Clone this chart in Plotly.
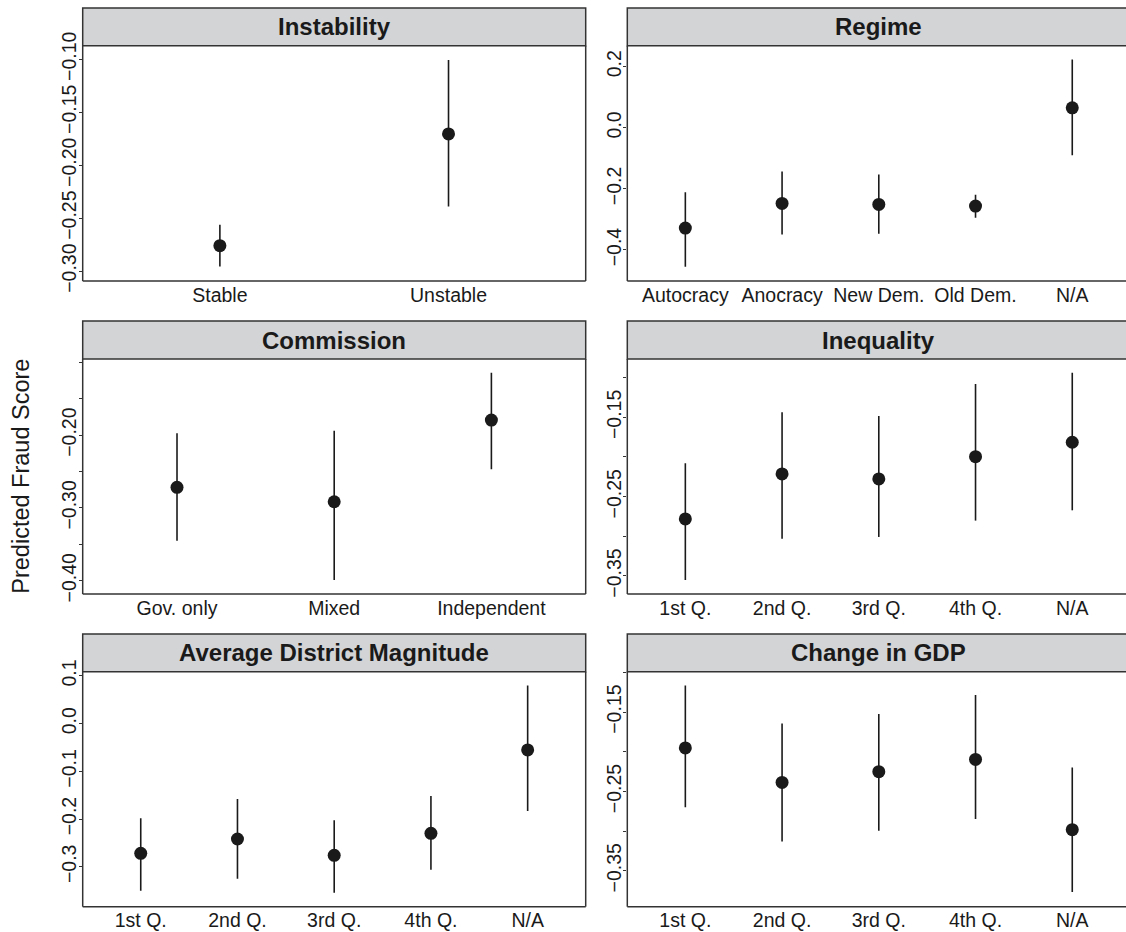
import plotly.graph_objects as go

# ---------------- data ----------------
instab_cats = ["Stable", "Unstable"]
instab_est = [-0.276, -0.1705]
instab_lo = [-0.2957, -0.239]
instab_hi = [-0.2563, -0.1007]

regime_cats = ["Autocracy", "Anocracy", "New Dem.", "Old Dem.", "N/A"]
regime_est = [-0.3284, -0.2477, -0.251, -0.2564, 0.0655]
regime_lo = [-0.455, -0.3492, -0.347, -0.2946, -0.0895]
regime_hi = [-0.2106, -0.1429, -0.1528, -0.2193, 0.2237]

comm_cats = ["Gov. only", "Mixed", "Independent"]
comm_est = [-0.2718, -0.2916, -0.1794]
comm_lo = [-0.3451, -0.399, -0.2471]
comm_hi = [-0.1977, -0.1941, -0.1144]

quart_cats = ["1st Q.", "2nd Q.", "3rd Q.", "4th Q.", "N/A"]

ineq_est = [-0.2781, -0.2214, -0.2277, -0.1996, -0.1814]
ineq_lo = [-0.3550, -0.3030, -0.3008, -0.2802, -0.2672]
ineq_hi = [-0.2079, -0.1436, -0.1483, -0.1080, -0.0939]

adm_est = [-0.2719, -0.2419, -0.2761, -0.2300, -0.0551]
adm_lo = [-0.3503, -0.3252, -0.3545, -0.3063, -0.1831]
adm_hi = [-0.1986, -0.1581, -0.2027, -0.1518, 0.0803]

gdp_est = [-0.1953, -0.2387, -0.2252, -0.2097, -0.2982]
gdp_lo = [-0.2701, -0.3133, -0.2995, -0.2848, -0.3769]
gdp_hi = [-0.1167, -0.1644, -0.1525, -0.1286, -0.2198]

M = "\u2212"
ticks_instab = [-0.30, -0.25, -0.20, -0.15, -0.10]
labels_instab = [M + "0.30", M + "0.25", M + "0.20", M + "0.15", M + "0.10"]
ticks_regime = [-0.4, -0.2, 0.0, 0.2]
labels_regime = [M + "0.4", M + "0.2", "0.0", "0.2"]
ticks_comm = [-0.40, -0.35, -0.30, -0.25, -0.20, -0.15, -0.10]
labels_comm = [M + "0.40", "", M + "0.30", "", M + "0.20", "", ""]
ticks_ineq = [-0.35, -0.30, -0.25, -0.20, -0.15, -0.10]
labels_ineq = [M + "0.35", "", M + "0.25", "", M + "0.15", ""]
ticks_adm = [-0.3, -0.2, -0.1, 0.0, 0.1]
labels_adm = [M + "0.3", M + "0.2", M + "0.1", "0.0", "0.1"]
ticks_gdp = [-0.35, -0.30, -0.25, -0.20, -0.15, -0.10]
labels_gdp = [M + "0.35", "", M + "0.25", "", M + "0.15", ""]

# ---------------- layout geometry (pixels) ----------------
W, H = 1126, 932
FONT = "Liberation Sans, Arial, Helvetica, sans-serif"
INK = "#1a1a1a"
LINE = "#333333"

col_px = [(82.7, 585.7), (627.3, 1130.3)]
row_px = [(8, 45.7, 281.0), (321, 359.0, 594.0), (634, 671.7, 906.7)]

panels = [
    ("Instability", instab_cats, instab_est, instab_lo, instab_hi,
     [-0.3094, -0.0872], ticks_instab, labels_instab, 0, 0),
    ("Regime", regime_cats, regime_est, regime_lo, regime_hi,
     [-0.5015, 0.2687], ticks_regime, labels_regime, 0, 1),
    ("Commission", comm_cats, comm_est, comm_lo, comm_hi,
     [-0.4183, -0.0956], ticks_comm, labels_comm, 1, 0),
    ("Inequality", quart_cats, ineq_est, ineq_lo, ineq_hi,
     [-0.3727, -0.0765], ticks_ineq, labels_ineq, 1, 1),
    ("Average District Magnitude", quart_cats, adm_est, adm_lo, adm_hi,
     [-0.3839, 0.109], ticks_adm, labels_adm, 2, 0),
    ("Change in GDP", quart_cats, gdp_est, gdp_lo, gdp_hi,
     [-0.3953, -0.0992], ticks_gdp, labels_gdp, 2, 1),
]

fig = go.Figure()
shapes = []
annotations = []

for i, (title, cats, est, lo, hi, yr, tv, tt, r, c) in enumerate(panels, start=1):
    x0px, x1px = col_px[c]
    stop, ptop, pbot = row_px[r]
    n = len(cats)
    unit = (x1px - x0px) / (n - 1 + 1.2)
    vis_right = min(x1px, W)
    xr = [-0.6, -0.6 + (vis_right - x0px) / unit]
    xd = [x0px / W, vis_right / W]
    yd = [1 - pbot / H, 1 - ptop / H]
    sfx = "" if i == 1 else str(i)

    fig.add_trace(go.Scatter(
        x=cats, y=est, mode="markers",
        marker=dict(size=13, color=INK, line=dict(width=0)),
        error_y=dict(type="data", symmetric=False,
                     array=[h - e for h, e in zip(hi, est)],
                     arrayminus=[e - l for e, l in zip(est, lo)],
                     color=INK, thickness=1.6, width=0),
        xaxis="x" + sfx, yaxis="y" + sfx, showlegend=False,
        hoverinfo="x+y",
    ))

    fig.layout["xaxis" + sfx] = dict(
        domain=xd, anchor="y" + sfx, type="category",
        categoryorder="array", categoryarray=cats, range=xr,
        showgrid=False, zeroline=False, showline=False, ticks="",
        tickfont=dict(family=FONT, size=19.5, color=INK),
        automargin=False, fixedrange=True,
    )
    fig.layout["yaxis" + sfx] = dict(
        domain=yd, anchor="x" + sfx, range=yr,
        tickmode="array", tickvals=tv, ticktext=tt, tickangle=-90,
        showgrid=False, zeroline=False, showline=False,
        ticks="outside", ticklen=3, tickwidth=1, tickcolor=LINE,
        tickfont=dict(family=FONT, size=19.5, color=INK),
        ticklabelstandoff=-5,
        automargin=False, fixedrange=True,
    )

    strip_right = x1px if x1px <= W else x1px + 4
    # strip (with its own border)
    shapes.append(dict(type="rect", xref="paper", yref="paper",
                       x0=x0px / W, x1=strip_right / W, y0=1 - ptop / H, y1=1 - stop / H,
                       fillcolor="#d3d4d6", line=dict(color=LINE, width=1.5),
                       layer="below"))
    # panel border (left, bottom, right if visible)
    shapes.append(dict(type="line", xref="paper", yref="paper",
                       x0=x0px / W, x1=x0px / W, y0=1 - pbot / H, y1=1 - ptop / H,
                       line=dict(color=LINE, width=1.5)))
    shapes.append(dict(type="line", xref="paper", yref="paper",
                       x0=x0px / W, x1=vis_right / W, y0=1 - pbot / H, y1=1 - pbot / H,
                       line=dict(color=LINE, width=1.5)))
    if x1px <= W:
        shapes.append(dict(type="line", xref="paper", yref="paper",
                           x0=x1px / W, x1=x1px / W, y0=1 - pbot / H, y1=1 - ptop / H,
                           line=dict(color=LINE, width=1.5)))
    annotations.append(dict(
        text="<b>" + title + "</b>", xref="paper", yref="paper",
        x=(x0px + x1px) / 2 / W, y=1 - (stop + ptop) / 2 / H,
        xanchor="center", yanchor="middle", showarrow=False,
        font=dict(family=FONT, size=24, color=INK),
    ))

annotations.append(dict(
    text="Predicted Fraud Score", xref="paper", yref="paper",
    x=20.7 / W, y=1 - 476 / H, textangle=-90,
    xanchor="center", yanchor="middle", showarrow=False,
    font=dict(family=FONT, size=23.5, color=INK),
))

fig.update_layout(
    width=W, height=H,
    margin=dict(l=0, r=0, t=0, b=0, pad=0, autoexpand=False),
    paper_bgcolor="white", plot_bgcolor="white",
    shapes=shapes, annotations=annotations,
    showlegend=False,
)

fig.write_html("out.html", config={"displayModeBar": False},
               post_script="document.body.style.margin='0';document.body.style.overflow='hidden';")
